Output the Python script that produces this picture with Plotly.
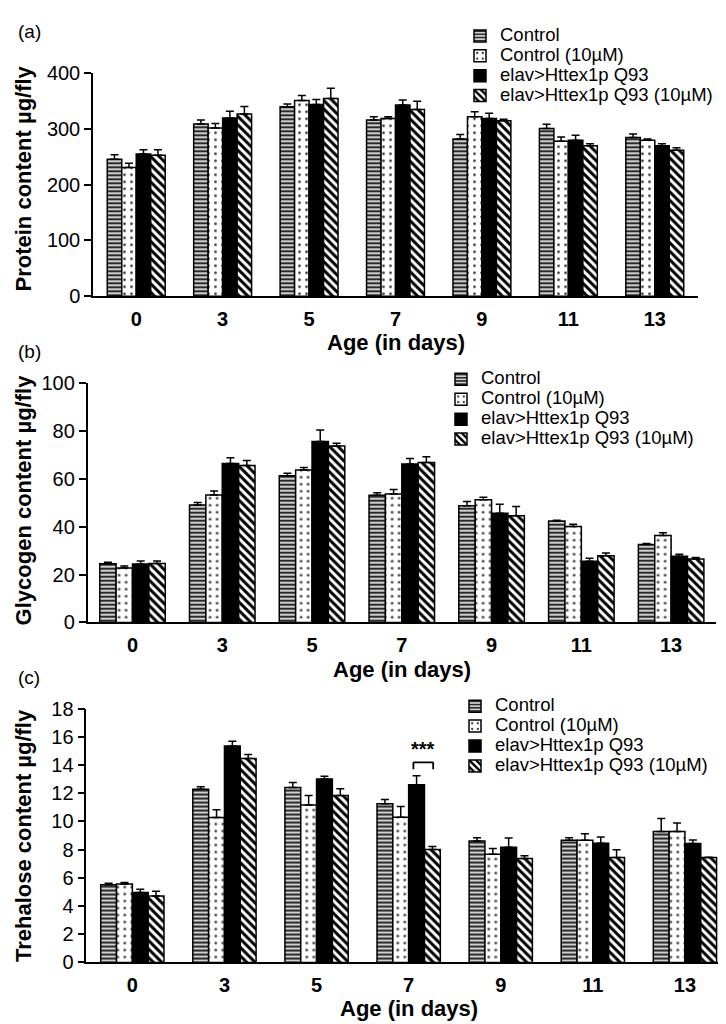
import plotly.graph_objects as go

# ---------------- data ----------------
days = ["0", "3", "5", "7", "9", "11", "13"]
series_names = ["Control", "Control (10µM)", "elav>Httex1p Q93", "elav>Httex1p Q93 (10µM)"]

protein_control = [246, 309, 340, 316, 282, 301, 285]
protein_control_err = [8, 7, 5, 6, 8, 7.5, 6]
protein_control10 = [231, 302, 351, 319, 322, 278, 280]
protein_control10_err = [7.5, 8, 9, 3, 9, 7.5, 2]
protein_q93 = [255, 320, 344, 343, 319, 280, 270]
protein_q93_err = [8, 12, 9, 9, 9.5, 9, 3.5]
protein_q93_10 = [253, 327, 355, 335, 315, 270, 262]
protein_q93_10_err = [10, 13.5, 18, 15, 2.5, 3.5, 4.5]

glycogen_control = [24.5, 49.0, 61.2, 53.1, 48.7, 42.3, 32.5]
glycogen_control_err = [0.6, 1.0, 1.0, 1.0, 1.7, 0.3, 0.4]
glycogen_control10 = [22.7, 53.2, 63.6, 53.6, 51.2, 40.0, 36.3]
glycogen_control10_err = [0.8, 1.6, 1.0, 1.9, 1.0, 1.0, 1.1]
glycogen_q93 = [24.4, 66.3, 75.5, 66.1, 45.6, 25.5, 27.6]
glycogen_q93_err = [1.2, 2.4, 4.8, 2.3, 3.7, 1.3, 0.8]
glycogen_q93_10 = [24.6, 65.5, 73.6, 66.7, 44.5, 27.8, 26.5]
glycogen_q93_10_err = [1.0, 2.0, 1.1, 2.4, 3.9, 1.2, 0.6]

trehalose_control = [5.51, 12.27, 12.40, 11.25, 8.61, 8.66, 9.28]
trehalose_control_err = [0.10, 0.18, 0.35, 0.30, 0.23, 0.18, 0.93]
trehalose_control10 = [5.56, 10.28, 11.16, 10.30, 7.66, 8.66, 9.28]
trehalose_control10_err = [0.10, 0.55, 0.67, 0.76, 0.42, 0.46, 0.60]
trehalose_q93 = [4.96, 15.34, 13.00, 12.59, 8.17, 8.45, 8.43]
trehalose_q93_err = [0.23, 0.35, 0.20, 0.65, 0.65, 0.44, 0.25]
trehalose_q93_10 = [4.70, 14.46, 11.83, 8.01, 7.36, 7.43, 7.43]
trehalose_q93_10_err = [0.35, 0.28, 0.48, 0.20, 0.21, 0.56, 0.03]

panel_labels = ["(a)", "(b)", "(c)"]
y_titles = ["Protein content µg/fly", "Glycogen content µg/fly", "Trehalose content µg/fly"]
x_title = "Age (in days)"
significance_label = "***"

# ---------------- styling ----------------
W, H = 726, 1024
FONT = "Arial, Liberation Sans, sans-serif"

patterns = [
    dict(shape="-", fgcolor="black", bgcolor="#cfcfcf", size=4, solidity=0.4, fillmode="replace"),
    dict(shape=".", fgcolor="#333333", bgcolor="white", size=7, solidity=0.12, fillmode="replace"),
    None,
    dict(shape="\\", fgcolor="black", bgcolor="white", size=6, solidity=0.5, fillmode="replace"),
]
bar_colors = ["#cfcfcf", "white", "black", "white"]

# pixel layout for each panel
panels = [
    dict(x0=85, x1=690, yt=55.5, yb=283.3, gf=0.67, rng=[0, 400], dtick=100,
         legend_xy=(452, 2), title_y=331, ytitle_c=163, label_y=13,
         data=[(protein_control, protein_control_err), (protein_control10, protein_control10_err),
               (protein_q93, protein_q93_err), (protein_q93_10, protein_q93_10_err)]),
    dict(x0=79.6, x1=708, yt=371.7, yb=616.7, gf=0.73, rng=[0, 100], dtick=20,
         legend_xy=(433, 353), title_y=665, ytitle_c=492, label_y=340,
         data=[(glycogen_control, glycogen_control_err), (glycogen_control10, glycogen_control10_err),
               (glycogen_q93, glycogen_q93_err), (glycogen_q93_10, glycogen_q93_10_err)]),
    dict(x0=78.3, x1=723, yt=704.7, yb=964.1, gf=0.687, rng=[0, 18], dtick=2,
         legend_xy=(447, 687), title_y=1011, ytitle_c=835, label_y=673,
         data=[(trehalose_control, trehalose_control_err), (trehalose_control10, trehalose_control10_err),
               (trehalose_q93, trehalose_q93_err), (trehalose_q93_10, trehalose_q93_10_err)]),
]

fig = go.Figure()
layout = dict(
    width=W, height=H, margin=dict(l=0, r=0, t=0, b=0),
    paper_bgcolor="white", plot_bgcolor="white",
    barmode="overlay", showlegend=True,
    font=dict(family=FONT, color="black", size=20),
)
annotations = []
shapes = []

for p_i, p in enumerate(panels):
    sfx = "" if p_i == 0 else str(p_i + 1)
    xa, ya = "x" + sfx, "y" + sfx
    leg = "legend" + sfx
    bw = p["gf"] / 4
    for s_i, (vals, errs) in enumerate(p["data"]):
        marker = dict(color=bar_colors[s_i], line=dict(color="black", width=1.5))
        if patterns[s_i] is not None:
            marker["pattern"] = patterns[s_i]
        fig.add_trace(go.Bar(
            x=days, y=vals, xaxis=xa, yaxis=ya,
            name='<span style="font-size:18.5px">' + series_names[s_i] + '</span>',
            legend=leg,
            width=bw, offset=-p["gf"] / 2 + s_i * bw,
            marker=marker,
            error_y=dict(type="data", array=errs, arrayminus=[0] * len(errs), symmetric=False,
                         color="black", thickness=1.5, width=4),
        ))
    xdom = [p["x0"] / W, p["x1"] / W]
    ydom = [1 - p["yb"] / H, 1 - p["yt"] / H]
    layout["xaxis" + sfx] = dict(
        domain=xdom, anchor=ya, type="category", categoryarray=days, categoryorder="array",
        range=[-0.5, len(days) - 0.5], showline=True, linecolor="black", linewidth=1.5,
        ticks="", showgrid=False, zeroline=False, ticklabelstandoff=4,
        tickfont=dict(family=FONT, size=20, weight="bold"),
    )
    layout["yaxis" + sfx] = dict(
        domain=ydom, anchor=xa, range=p["rng"], dtick=p["dtick"], showline=True,
        linecolor="black", linewidth=1.5, ticks="outside", ticklen=7, tickwidth=1.5,
        tickcolor="black", showgrid=False, zeroline=False,
        tickfont=dict(family=FONT, size=20),
    )
    ov = "yaxis" + str(p_i + 4)
    layout[ov] = dict(
        domain=ydom, anchor=xa, overlaying=ya, side="left", range=p["rng"], dtick=p["dtick"],
        showline=False, ticks="inside", ticklen=4, tickwidth=1.5, tickcolor="black",
        showticklabels=False, showgrid=False, zeroline=False,
    )
    lx, ly = p["legend_xy"]
    layout[leg] = dict(
        x=lx / W, y=1 - ly / H, xanchor="left", yanchor="top",
        bgcolor="rgba(0,0,0,0)", borderwidth=0, itemwidth=30,
        font=dict(family=FONT, size=13, color="black"), tracegroupgap=0,
    )
    annotations.append(dict(
        text="<b>" + x_title + "</b>", xref="paper", yref="paper",
        x=(xdom[0] + xdom[1]) / 2, y=1 - p["title_y"] / H,
        xanchor="center", yanchor="middle", showarrow=False,
        font=dict(family=FONT, size=22, color="black"),
    ))
    annotations.append(dict(
        text="<b>" + y_titles[p_i] + "</b>", xref="paper", yref="paper",
        x=15 / W, y=1 - p["ytitle_c"] / H, textangle=-90,
        xanchor="center", yanchor="middle", showarrow=False,
        font=dict(family=FONT, size=22, color="black"),
    ))
    annotations.append(dict(
        text=panel_labels[p_i], xref="paper", yref="paper",
        x=8 / W, y=1 - p["label_y"] / H, xanchor="left", yanchor="middle",
        showarrow=False, font=dict(family=FONT, size=19, color="black"),
    ))

# significance bracket in panel (c), between Q93 and Q93(10µM) at day 7
p = panels[2]
bw = p["gf"] / 4
idx = days.index("7")
xl = idx - p["gf"] / 2 + 2.3 * bw
xr = idx - p["gf"] / 2 + 3.55 * bw
leg_bottom = trehalose_q93[idx] + trehalose_q93_err[idx] + 0.45
leg_top = leg_bottom + 0.5
for (x0, y0, x1, y1) in [(xl, leg_bottom, xl, leg_top), (xl, leg_top, xr, leg_top), (xr, leg_top, xr, leg_bottom)]:
    shapes.append(dict(type="line", xref="x3", yref="y3", x0=x0, y0=y0, x1=x1, y1=y1,
                       line=dict(color="black", width=1.8)))
annotations.append(dict(
    text="<b>" + significance_label + "</b>", xref="x3", yref="y3",
    x=(xl + xr) / 2, y=leg_top + 0.05, xanchor="center", yanchor="bottom",
    showarrow=False, font=dict(family=FONT, size=20, color="black"),
))

layout["annotations"] = annotations
layout["shapes"] = shapes
fig.update_layout(**layout)
fig.write_html("out.html")
